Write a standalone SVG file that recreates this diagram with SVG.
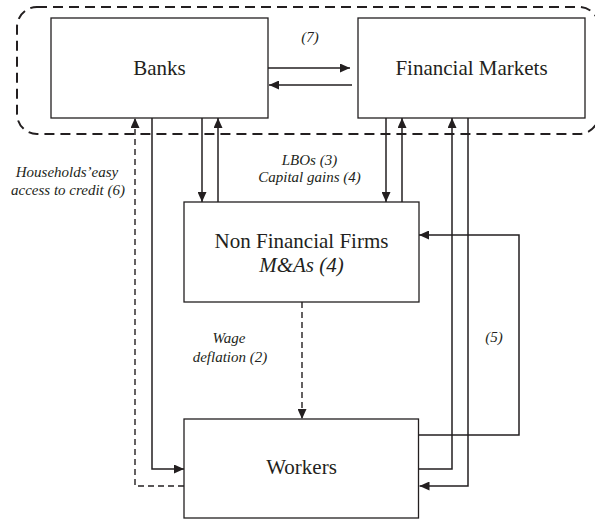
<svg xmlns="http://www.w3.org/2000/svg" width="595" height="519" viewBox="0 0 595 519">
<defs>
<style>
.box{fill:#fff;stroke:#231f20;stroke-width:1.3}
text{fill:#231f20;text-anchor:middle}
.lbl{font-size:21px}
.it{font-style:italic;font-size:15px}
.c{fill:none;stroke:#231f20;stroke-width:1.5}
.d{fill:none;stroke:#231f20;stroke-width:1.4;stroke-dasharray:6 4}
.grp{fill:none;stroke:#231f20;stroke-width:2;stroke-dasharray:10 6}
</style>
<marker id="ah" markerWidth="10" markerHeight="9" refX="10" refY="4.5" orient="auto" markerUnits="userSpaceOnUse">
<path d="M0,0 L10,4.5 L0,9 Z" fill="#231f20"/>
</marker>
</defs>
<rect width="595" height="519" fill="#fff"/>
<rect class="grp" x="17" y="7" width="582" height="127" rx="20"/>
<g font-family="Liberation Serif, DejaVu Serif, serif">
<g id="banks"><rect class="box" x="51" y="18" width="217" height="100"/><text class="lbl" x="159.5" y="75">Banks</text></g>
<g id="financial-markets"><rect class="box" x="358" y="18" width="227" height="100"/><text class="lbl" x="471.5" y="75">Financial Markets</text></g>
<g id="non-financial-firms"><rect class="box" x="184" y="202" width="235" height="100"/><text class="lbl" x="301.5" y="248">Non Financial Firms</text><text class="lbl" x="301.5" y="272" font-style="italic">M&amp;As (4)</text></g>
<g id="workers"><rect class="box" x="184" y="419" width="234.5" height="99"/><text class="lbl" x="301.5" y="474">Workers</text></g>
<g id="connectors">
<path class="c" d="M268,68 H350" marker-end="url(#ah)"/>
<path class="c" d="M352,85 H269" marker-end="url(#ah)"/>
<path class="c" d="M202,118 V202" marker-end="url(#ah)"/>
<path class="c" d="M218,202 V118" marker-end="url(#ah)"/>
<path class="c" d="M386,118 V202" marker-end="url(#ah)"/>
<path class="c" d="M402,202 V118" marker-end="url(#ah)"/>
<path class="c" d="M152,118 V469 H184" marker-end="url(#ah)"/>
<path class="d" d="M184,486 H135 V118" marker-end="url(#ah)"/>
<path class="d" d="M302,302 V419" marker-end="url(#ah)"/>
<path class="c" d="M419,435 H519 V235 H419" marker-end="url(#ah)"/>
<path class="c" d="M419,469 H452 V118" marker-end="url(#ah)"/>
<path class="c" d="M468,118 V486 H419.5" marker-end="url(#ah)"/>
</g>
<g id="labels">
<text class="it" x="310" y="42">(7)</text>
<text class="it" x="309.5" y="165">LBOs (3)</text>
<text class="it" x="309.5" y="182">Capital gains (4)</text>
<text class="it" x="67" y="177">Households’easy</text>
<text class="it" x="68" y="195">access to credit (6)</text>
<text class="it" x="229" y="343">Wage</text>
<text class="it" x="230" y="362">deflation (2)</text>
<text class="it" x="494" y="342">(5)</text>
</g>
</g>
</svg>
